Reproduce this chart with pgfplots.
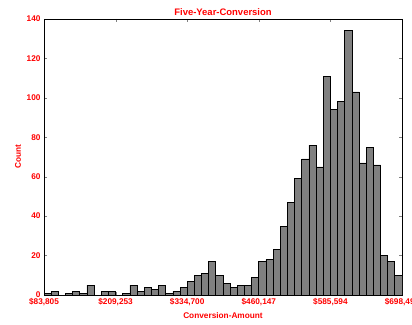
\documentclass[border=0pt]{standalone}
\usepackage{pgfplots}
\pgfplotsset{compat=1.18}
\usepackage{fontspec}
\setmainfont{Liberation Sans}
\definecolor{barfill}{RGB}{128,128,128}
\definecolor{txtred}{RGB}{255,0,0}
\begin{document}
\begin{tikzpicture}
\begin{axis}[
  scale only axis,
  width=358bp, height=276bp,
  xmin=0, xmax=50, ymin=0, ymax=140,
  xtick={0,10,20,30,40,50},
  xticklabels={{\$83,805},{\$209,253},{\$334,700},{\$460,147},{\$585,594},{\$698,497}},
  ytick={0,20,40,60,80,100,120,140},
  /pgf/number format/assume math mode=true,
  tick label style={font=\fontsize{8.3}{9}\selectfont\bfseries, text=txtred},
  tick align=inside,
  major tick length=3bp,
  xtick pos=both, ytick pos=both,
  axis line style={line width=0.9pt},
  title={Five-Year-Conversion},
  title style={font=\fontsize{9.5}{10}\selectfont\bfseries, text=txtred, yshift=-6bp},
  xlabel={Conversion-Amount},
  ylabel={Count},
  label style={font=\fontsize{8.3}{9}\selectfont\bfseries, text=txtred},
  xlabel style={yshift=0bp},
  ylabel style={yshift=-1bp},
  xticklabel style={yshift=0bp},
  yticklabel style={xshift=0bp},
]
\addplot[ybar interval, fill=barfill, draw=black, line width=0.7pt] coordinates {
(0,1) (1,2) (2,0) (3,1) (4,2) (5,1) (6,5) (7,0) (8,2) (9,2)
(10,0) (11,1) (12,5) (13,2) (14,4) (15,3) (16,5) (17,1) (18,2) (19,4)
(20,7) (21,10) (22,11) (23,17) (24,10) (25,6) (26,4) (27,5) (28,5) (29,9)
(30,17) (31,18) (32,23) (33,35) (34,47) (35,59) (36,69) (37,76) (38,65) (39,111)
(40,94) (41,98) (42,134) (43,103) (44,67) (45,75) (46,66) (47,20) (48,17) (49,10)
(50,10)
};
\end{axis}
\pgfresetboundingbox
\path[use as bounding box] ([xshift=-44bp,yshift=-29bp]current axis.south west) rectangle ([xshift=10bp,yshift=19bp]current axis.north east);
\end{tikzpicture}
\end{document}
